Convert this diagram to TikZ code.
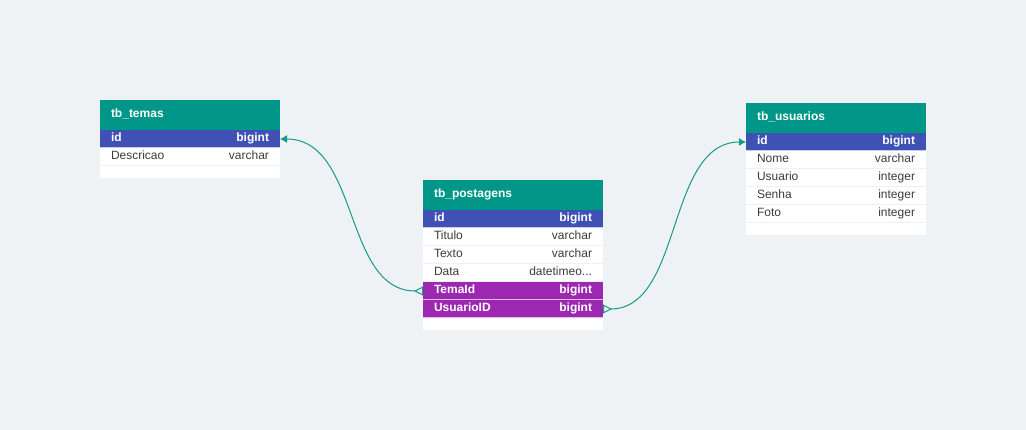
\documentclass[tikz,border=0pt,12pt]{standalone}
\usepackage{fontspec}
\setmainfont{Liberation Sans}
\usetikzlibrary{positioning, arrows.meta}

\definecolor{bgcol}{HTML}{EEF2F5}
\definecolor{headcol}{HTML}{009688}
\definecolor{pkcol}{HTML}{3F51B5}
\definecolor{fkcol}{HTML}{9C27B0}
\definecolor{rowtext}{HTML}{3C3C3C}
\definecolor{relcol}{HTML}{14998B}

\begin{document}
\begin{tikzpicture}[x=1pt, y=-1pt, node distance=0pt]
        % Define block styles
        \tikzstyle{head} = [rectangle, fill=headcol, text=white, font=\bfseries, minimum width=180pt, minimum height=30pt, text width=158pt, inner xsep=11pt, inner ysep=0pt, outer sep=0pt, text height=9pt, text depth=3pt, anchor=north west]
        \tikzstyle{row} = [rectangle, fill=white, text=rowtext, minimum width=180pt, minimum height=18pt, text width=158pt, inner xsep=11pt, inner ysep=0pt, outer sep=0pt, text height=9pt, text depth=3pt, path picture={\draw[line width=2pt, black!6] (path picture bounding box.south west) -- (path picture bounding box.south east);}]
        \tikzstyle{pkrow} = [row, fill=pkcol, text=white, font=\bfseries, path picture={\draw[line width=2pt, white!70!pkcol] (path picture bounding box.south west) -- (path picture bounding box.south east);}]
        \tikzstyle{fkrow} = [row, fill=fkcol, text=white, font=\bfseries, path picture={\draw[line width=2pt, white!70!fkcol] (path picture bounding box.south west) -- (path picture bounding box.south east);}]
        \tikzstyle{endrow} = [rectangle, fill=white, minimum width=180pt, minimum height=12pt, inner sep=0pt, outer sep=0pt]
        \tikzstyle{rel} = [draw=relcol, line width=1pt, {Triangle[open, reversed, length=9pt, width=9pt]}-{Latex[length=7pt, width=8pt]}]

        \fill[bgcol] (0,0) rectangle (1026,430);

        % Place nodes
        \node [head] (temas) at (100,100) {tb\_temas};
        \node [pkrow, below=of temas] (temas_id) {id\hfill bigint};
        \node [row, below=of temas_id] (temas_desc) {Descricao\hfill varchar};
        \node [endrow, below=of temas_desc] (temas_end) {};

        \node [head] (postagens) at (423,180) {tb\_postagens};
        \node [pkrow, below=of postagens] (post_id) {id\hfill bigint};
        \node [row, below=of post_id] (post_titulo) {Titulo\hfill varchar};
        \node [row, below=of post_titulo] (post_texto) {Texto\hfill varchar};
        \node [row, below=of post_texto] (post_data) {Data\hfill datetimeo...};
        \node [fkrow, below=of post_data] (post_temaid) {TemaId\hfill bigint};
        \node [fkrow, below=of post_temaid] (post_usuarioid) {UsuarioID\hfill bigint};
        \node [endrow, below=of post_usuarioid] (post_end) {};

        \node [head] (usuarios) at (746,103) {tb\_usuarios};
        \node [pkrow, below=of usuarios] (usu_id) {id\hfill bigint};
        \node [row, below=of usu_id] (usu_nome) {Nome\hfill varchar};
        \node [row, below=of usu_nome] (usu_usuario) {Usuario\hfill integer};
        \node [row, below=of usu_usuario] (usu_senha) {Senha\hfill integer};
        \node [row, below=of usu_senha] (usu_foto) {Foto\hfill integer};
        \node [endrow, below=of usu_foto] (usu_end) {};

        % Draw connections as arrows
        \draw [rel] (post_temaid.west) .. controls +(-80,0) and +(80,0) .. (temas_id.east);
        \draw [rel] (post_usuarioid.east) .. controls +(80,0) and +(-80,0) .. (usu_id.west);

    \end{tikzpicture}
\end{document}
